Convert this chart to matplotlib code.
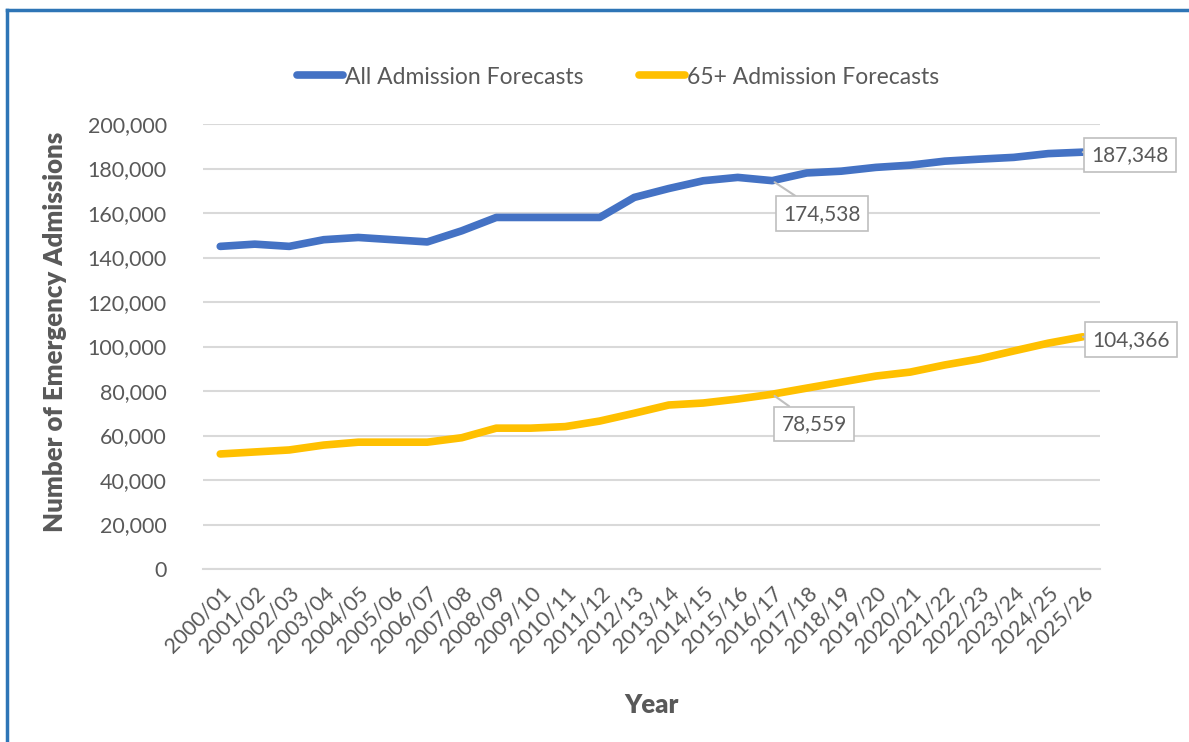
import matplotlib.pyplot as plt
from matplotlib.lines import Line2D
from matplotlib.ticker import FuncFormatter

years = ['2000/01', '2001/02', '2002/03', '2003/04', '2004/05', '2005/06',
         '2006/07', '2007/08', '2008/09', '2009/10', '2010/11', '2011/12',
         '2012/13', '2013/14', '2014/15', '2015/16', '2016/17', '2017/18',
         '2018/19', '2019/20', '2020/21', '2021/22', '2022/23', '2023/24',
         '2024/25', '2025/26']

all_admissions = [145000, 146000, 145000, 148000, 149000, 148000, 147000,
                  152000, 158000, 158000, 158000, 158000, 167000, 171000,
                  174500, 176000, 174538, 178000, 178800, 180500, 181500,
                  183300, 184200, 185000, 186700, 187348]

over65_admissions = [51700, 52600, 53500, 55700, 57000, 57000, 57000, 59000,
                     63300, 63300, 64000, 66500, 70000, 73700, 74600, 76400,
                     78559, 81300, 84000, 86700, 88500, 91700, 94400, 98000,
                     101500, 104366]

BLUE = '#4472C4'
GOLD = '#FFC000'
TEXT = '#595959'

plt.rcParams['font.family'] = ['Lato', 'DejaVu Sans']

fig = plt.figure(figsize=(11.89, 7.42), dpi=100)
ax = fig.add_axes([203 / 1189, 173 / 742, 897 / 1189, 445 / 742])

x = list(range(len(years)))
ax.plot(x, all_admissions, color=BLUE, lw=5.5, label='All Admission Forecasts',
        solid_capstyle='round')
ax.plot(x, over65_admissions, color=GOLD, lw=5.5, label='65+ Admission Forecasts',
        solid_capstyle='round')

ax.set_xlim(-0.5, len(years) - 0.5)
ax.set_ylim(0, 200000)
ax.set_yticks(range(0, 200001, 20000))
ax.yaxis.set_major_formatter(FuncFormatter(lambda v, p: f'{int(v):,}'))
ax.set_xticks(x)
ax.set_xticklabels(years, rotation=45, ha='right', rotation_mode='anchor')
ax.tick_params(axis='both', length=0, labelsize=15.5, colors=TEXT)
ax.tick_params(axis='y', pad=26)
ax.tick_params(axis='x', pad=10)
ax.grid(axis='y', color='#D9D9D9', lw=1.5)
ax.set_axisbelow(True)
for s in ['top', 'right', 'left']:
    ax.spines[s].set_visible(False)
ax.spines['bottom'].set_color('#D9D9D9')
ax.spines['bottom'].set_linewidth(1.5)

ax.set_ylabel('Number of Emergency Admissions', fontsize=18.5, fontweight='heavy',
              color=TEXT)
ax.yaxis.set_label_coords(-0.152, 0.533)
ax.set_xlabel('Year', fontsize=18.5, fontweight='heavy', color=TEXT, labelpad=26)

leg = fig.legend(loc='center', bbox_to_anchor=(618 / 1189, 1 - 77 / 742), ncol=2,
                 frameon=False, fontsize=16.5, handlelength=2.0, columnspacing=2.4,
                 handletextpad=0.1)
for t in leg.get_texts():
    t.set_color(TEXT)


def callout(i, values, dx, dy):
    v = values[i]
    ax.annotate(f'{v:,}', xy=(i, v), xytext=(dx, dy), textcoords='offset pixels',
                ha='center', va='center', fontsize=15, color=TEXT,
                bbox=dict(boxstyle='square,pad=0.35', fc='white', ec='#BFBFBF', lw=1.2),
                arrowprops=dict(arrowstyle='-', color='#BFBFBF', lw=1.5,
                                shrinkA=0, shrinkB=2))


callout(16, all_admissions, 50, -33)
callout(25, all_admissions, 47, -3)
callout(16, over65_admissions, 42, -30)
callout(25, over65_admissions, 48, -3)

fig.add_artist(Line2D([7 / 1189, 1], [1 - 10 / 742, 1 - 10 / 742],
                      color='#2E75B6', lw=2.5, transform=fig.transFigure))
fig.add_artist(Line2D([7 / 1189, 7 / 1189], [0, 1 - 10 / 742],
                      color='#2E75B6', lw=2.5, transform=fig.transFigure))

fig.savefig('out.png', dpi=100)
